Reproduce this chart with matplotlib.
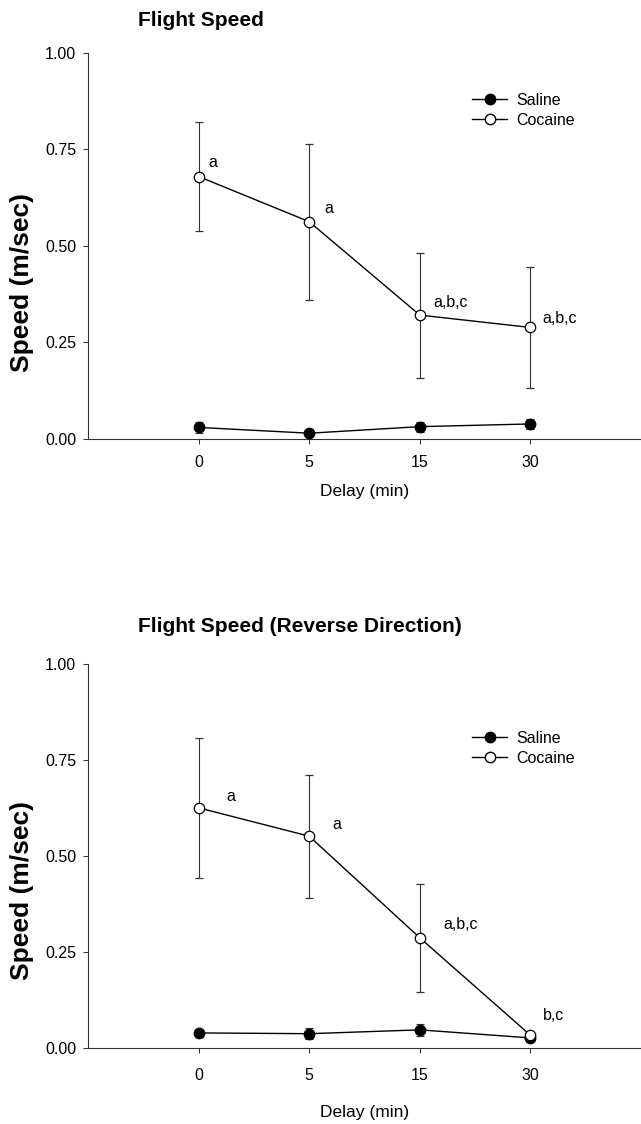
import matplotlib
matplotlib.use("Agg")
import matplotlib.pyplot as plt
from matplotlib.lines import Line2D
import numpy as np

plt.rcParams['font.family'] = ['Liberation Sans', 'DejaVu Sans']

delays = ['0', '5', '15', '30']

# flight speed
top_saline = [0.030, 0.015, 0.032, 0.039]
top_saline_err = [0.015, 0.004, 0.013, 0.013]
top_cocaine = [0.680, 0.563, 0.321, 0.289]
top_cocaine_err = [0.141, 0.202, 0.162, 0.156]
top_letters = ['a', 'a', 'a,b,c', 'a,b,c']

# flight speed, reverse direction
bottom_saline = [0.038, 0.036, 0.046, 0.025]
bottom_saline_err = [0.004, 0.015, 0.015, 0.005]
bottom_cocaine = [0.625, 0.551, 0.286, 0.032]
bottom_cocaine_err = [0.182, 0.160, 0.140, 0.005]
bottom_letters = ['a', 'a', 'a,b,c', 'b,c']

W, H = 641, 1124


def panel(ax, saline, saline_err, cocaine, cocaine_err, letters, offsets,
          legend_xy, xpad, labelpad):
    x = np.arange(len(delays))
    ax.errorbar(x, saline, yerr=saline_err, color='k', ecolor='#333333',
                elinewidth=0.8, capsize=3, capthick=0.8, lw=1.0,
                marker='o', ms=7.5, mfc='k', mec='k', zorder=3)
    ax.errorbar(x, cocaine, yerr=cocaine_err, color='k', ecolor='#333333',
                elinewidth=0.8, capsize=3, capthick=0.8, lw=1.0,
                marker='o', ms=7.5, mfc='white', mec='k', mew=0.9, zorder=4)
    for xi, yi, txt, (dx, dy) in zip(x, cocaine, letters, offsets):
        ax.annotate(txt, (xi, yi), xytext=(dx, dy), textcoords='offset pixels',
                    ha='left', va='center', fontsize=11.5)

    ax.set_xlim(-1, 4)
    ax.set_ylim(0, 1)
    ax.set_xticks(x)
    ax.set_xticklabels(delays)
    ax.set_yticks([0, 0.25, 0.5, 0.75, 1.0])
    ax.set_yticklabels(['0.00', '0.25', '0.50', '0.75', '1.00'])
    ax.tick_params(axis='both', labelsize=11.5, length=3.6, width=0.75,
                   color='#333333')
    ax.tick_params(axis='x', pad=xpad)
    ax.tick_params(axis='y', pad=5)
    for s in ['top', 'right']:
        ax.spines[s].set_visible(False)
    for s in ['left', 'bottom']:
        ax.spines[s].set_linewidth(0.8)
        ax.spines[s].set_color('#333333')
    ax.set_xlabel('Delay (min)', fontsize=12.5, labelpad=labelpad)

    # legend
    custom_lines = [Line2D([0], [0], color='k', lw=1.0, marker='o', ms=7.5,
                           mfc='k', mec='k', label='Saline'),
                    Line2D([0], [0], color='k', lw=1.0, marker='o', ms=7.5,
                           mfc='white', mec='k', label='Cocaine')]
    ax.legend(handles=custom_lines, loc='upper left', frameon=False,
              bbox_to_anchor=(legend_xy[0] / W, 1 - legend_xy[1] / H),
              bbox_transform=fig.transFigure, fontsize=11.5, handlelength=2.2,
              handletextpad=0.55, borderpad=0, borderaxespad=0,
              labelspacing=0.3)


fig = plt.figure(figsize=(W / 100, H / 100), dpi=100)
ax1 = fig.add_axes([88 / W, 1 - 439 / H, (W - 88) / W, (439 - 53) / H])
ax2 = fig.add_axes([88 / W, 1 - 1047.5 / H, (W - 88) / W, (1047.5 - 664) / H])

panel(ax1, top_saline, top_saline_err, top_cocaine, top_cocaine_err,
      top_letters, [(10, 14), (15, 13), (14, 13), (12, 9)],
      (472, 93), 8, 10)
panel(ax2, bottom_saline, bottom_saline_err, bottom_cocaine, bottom_cocaine_err,
      bottom_letters, [(28, 11), (23, 12), (24, 13), (13, 20)],
      (472, 731), 11, 16)

fig.text(138 / W, 1 - 20 / H, 'Flight Speed', fontsize=15, weight='bold',
         ha='left', va='center')
fig.text(138 / W, 1 - 627 / H, 'Flight Speed (Reverse Direction)', fontsize=15,
         weight='bold', ha='left', va='center')
fig.text(22 / W, 1 - 283 / H, 'Speed (m/sec)', fontsize=19, weight='bold',
         rotation=90, ha='center', va='center')
fig.text(22 / W, 1 - 891 / H, 'Speed (m/sec)', fontsize=19, weight='bold',
         rotation=90, ha='center', va='center')

fig.savefig('out.png', dpi=100)
